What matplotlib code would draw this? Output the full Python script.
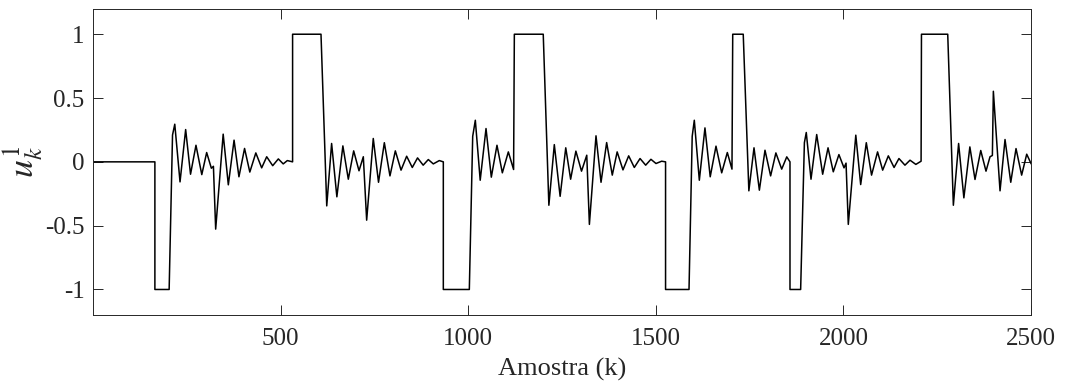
import matplotlib
matplotlib.use("Agg")
import matplotlib.pyplot as plt
from matplotlib.ticker import FuncFormatter

# vertices of u_k^1 (sample index, value)
k_pts = [0, 165, 165, 203, 212, 218, 232, 247, 260, 274.5, 290, 303, 315.5, 321, 327,
         347, 360.7, 376, 389, 404, 418, 434, 449.6, 463, 479, 494, 507, 518, 532, 532,
         607.7, 623, 636, 650, 666, 680.5, 694.8, 709, 720.5, 729.4,
         747, 761, 776.5, 791.5, 805.8, 821, 836, 851, 865, 880, 893.7, 907, 923, 933.7, 933.7,
         1003, 1012, 1019, 1032, 1047.5, 1061.6, 1076.7, 1091, 1107, 1121, 1123,
         1200, 1215, 1229.5, 1245, 1260, 1273, 1287, 1302, 1316, 1323,
         1340.6, 1354, 1369, 1384, 1397, 1412.5, 1427.7, 1442.7, 1458, 1473, 1487, 1500.5, 1515.6, 1526, 1526,
         1588.5, 1597, 1602.6, 1616, 1631, 1645, 1660.4, 1675.6, 1690.6, 1703, 1705,
         1733, 1748, 1761.7, 1776, 1791, 1806, 1820, 1835.5, 1849, 1857.6, 1857.6,
         1886, 1896, 1901, 1913.6, 1928.8, 1944.7, 1959, 1973, 1988, 2001.6, 2007, 2013,
         2033, 2046, 2061, 2075, 2091, 2104.6, 2119.7, 2135, 2148, 2164, 2177.5, 2193, 2207, 2208,
         2278, 2293, 2307, 2321, 2337, 2350.7, 2366, 2380, 2390.7, 2397, 2399.6,
         2417.4, 2430.7, 2446, 2460, 2475, 2488.5, 2500]
u_pts = [0, 0, -1, -1, 0.21, 0.295, -0.157, 0.253, -0.097, 0.13, -0.10, 0.073, -0.05, -0.035, -0.527,
         0.217, -0.18, 0.17, -0.117, 0.105, -0.08, 0.07, -0.047, 0.04, -0.03, 0.023, -0.016, 0.01, 0, 1,
         1, -0.345, 0.144, -0.274, 0.125, -0.136, 0.086, -0.07, 0.04, -0.457,
         0.183, -0.16, 0.15, -0.11, 0.086, -0.065, 0.044, -0.044, 0.031, -0.026, 0.018, -0.016, 0.01, 0, -1,
         -1, 0.2, 0.326, -0.144, 0.261, -0.12, 0.13, -0.086, 0.078, -0.06, 1,
         1, -0.34, 0.135, -0.27, 0.11, -0.136, 0.084, -0.073, 0.052, -0.49,
         0.204, -0.16, 0.151, -0.104, 0.078, -0.063, 0.047, -0.044, 0.026, -0.026, 0.02, -0.013, 0.005, 0, -1,
         -1, 0.2, 0.326, -0.144, 0.266, -0.117, 0.123, -0.086, 0.073, -0.057, 1,
         1, -0.227, 0.11, -0.222, 0.091, -0.11, 0.07, -0.057, 0.039, 0, -1,
         -1, 0.15, 0.23, -0.136, 0.214, -0.097, 0.11, -0.078, 0.057, -0.047, -0.01, -0.49,
         0.209, -0.178, 0.15, -0.104, 0.078, -0.065, 0.047, -0.044, 0.026, -0.026, 0.013, -0.02, 0.005, 1,
         1, -0.34, 0.144, -0.282, 0.117, -0.138, 0.089, -0.073, 0.04, 0.05, 0.553,
         -0.227, 0.175, -0.16, 0.104, -0.104, 0.06, -0.013]

x_ticks = [500, 1000, 1500, 2000, 2500]
y_ticks = [-1, -0.5, 0, 0.5, 1]

plt.rcParams['font.family'] = ['Liberation Serif', 'DejaVu Serif']
plt.rcParams['mathtext.fontset'] = 'stix'
plt.rcParams['axes.unicode_minus'] = False

grey = '#262626'
fig = plt.figure(figsize=(10.65, 3.9), dpi=100)
ax = fig.add_axes([0.0873, 0.1923, 0.8808, 0.7854])

ax.plot(k_pts, u_pts, color='black', lw=1.1)

ax.set_xlim(0, 2500)
ax.set_ylim(-1.2, 1.2)
ax.set_xticks(x_ticks)
ax.set_yticks(y_ticks)
ax.yaxis.set_major_formatter(FuncFormatter(lambda v, p: '%g' % v))
ax.tick_params(direction='in', length=7, width=0.7, top=True, right=True,
               colors=grey, labelsize=18)
ax.tick_params(axis='x', pad=9)
ax.tick_params(axis='y', pad=6)
for s in ax.spines.values():
    s.set_color(grey)
    s.set_linewidth(0.7)

ax.set_xlabel('Amostra (k)', fontsize=19, color=grey, labelpad=6)
ax.set_ylabel(r'$u_k^1$', fontsize=26, color=grey, labelpad=0)

fig.savefig('out.png', dpi=100)
